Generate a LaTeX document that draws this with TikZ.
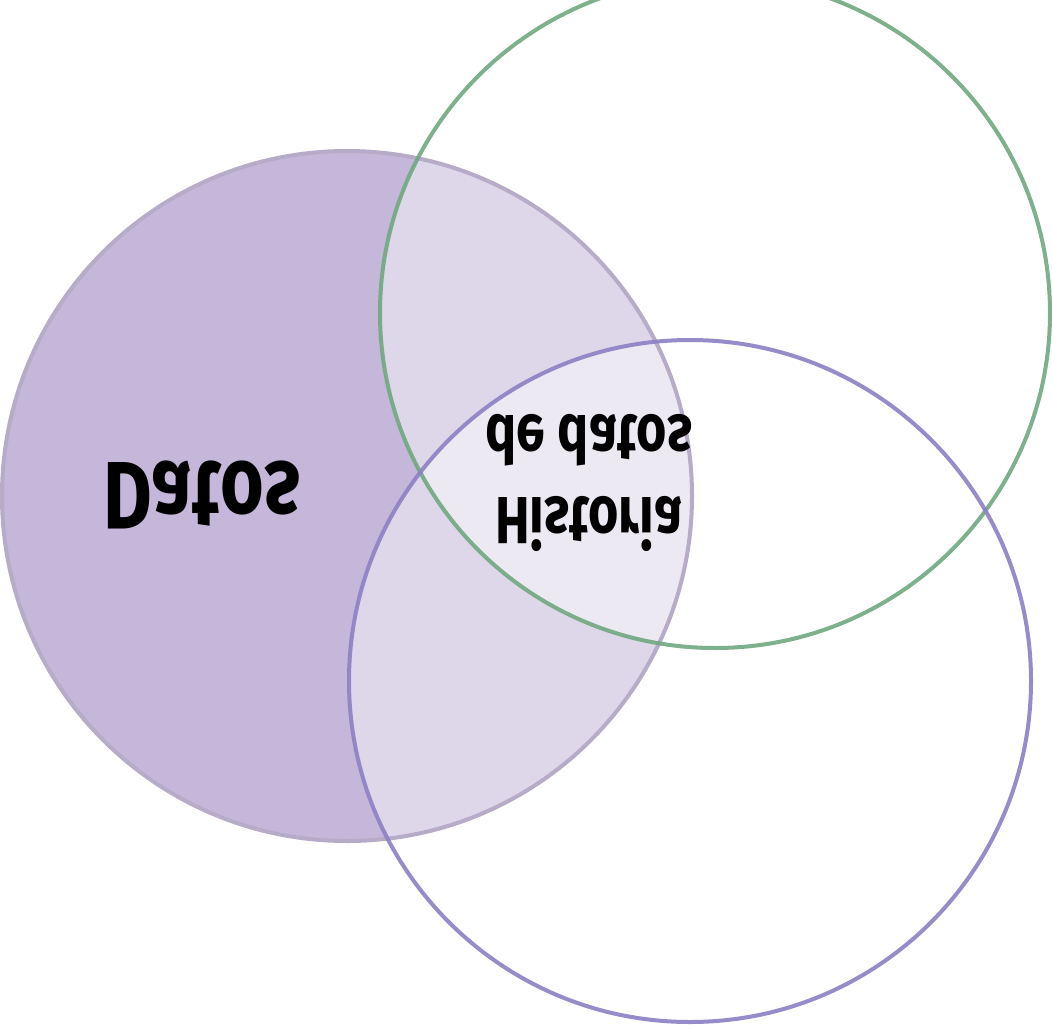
\documentclass[tikz,border=0pt]{standalone}
\usepackage{fontspec}
\setmainfont{Fira Sans}
\tikzset{every picture/.style={line width=0.75pt}}
\definecolor{datosfill}{RGB}{196,183,218}
\definecolor{greenring}{RGB}{112,168,128}
\definecolor{purplering}{RGB}{140,128,196}
\begin{document}
\begin{tikzpicture}[x=0.75pt,y=0.75pt,yscale=-1,xscale=1]
\useasboundingbox (0,0) rectangle (1052,1024);
%Shape: Circle [id:datos]
\fill [datosfill] (347,496) circle (345);
%Shape: Circle [id:green fill]
\fill [white, fill opacity=0.45] (715,313) circle (335);
%Shape: Circle [id:purple fill]
\fill [white, fill opacity=0.45] (690,681) circle (341);
%Shape: Circle outlines
\draw [color=datosfill!80!gray, line width=3] (347,496) circle (345);
\draw [color=greenring, line width=3, draw opacity=0.9] (715,313) circle (335);
\draw [color=purplering, line width=3, draw opacity=0.9] (690,681) circle (341);

% Text Node
\node (datos) at (202,495) [xscale=0.78, transform shape, font=\fontsize{72}{80}\selectfont\bfseries] {Datos};
% Text Node
\node (historia) at (589,483) [xscale=0.78, transform shape, align=center, font=\fontsize{50}{62}\selectfont\bfseries] {Historia\\de datos};
\end{tikzpicture}
\end{document}
